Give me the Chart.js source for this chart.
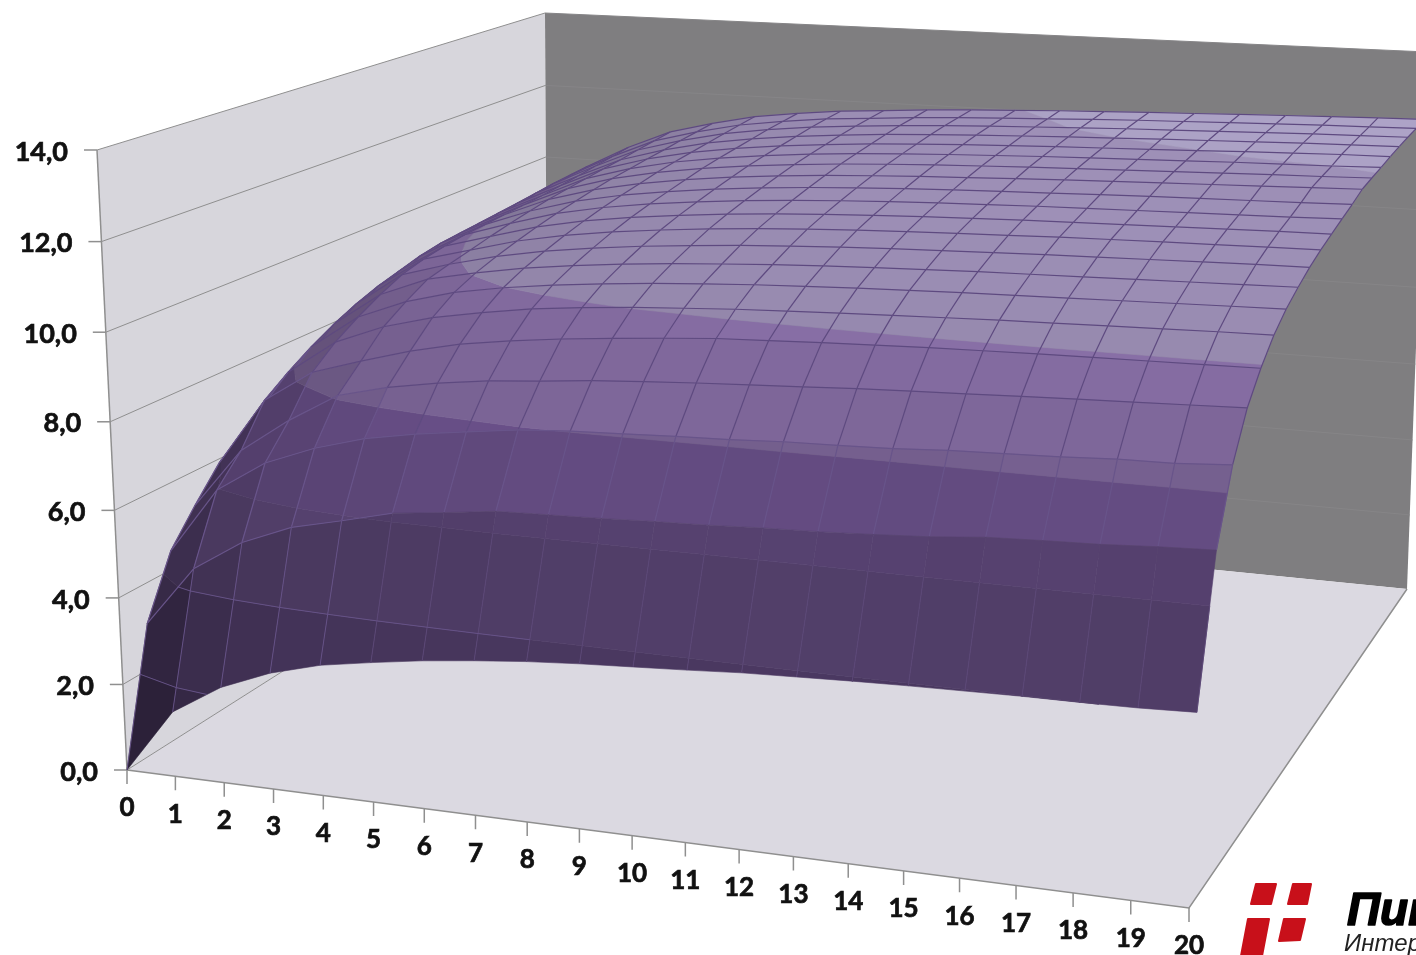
<!DOCTYPE html>
<html>
<head>
<meta charset="utf-8">
<style>
  html, body { margin: 0; padding: 0; background: #fff; overflow: hidden; }
  canvas { display: block; }
</style>
<script src="https://cdnjs.cloudflare.com/ajax/libs/Chart.js/4.4.0/chart.umd.min.js"></script>
</head>
<body>
<canvas id="chart" width="1416" height="955"></canvas>
<script>
const xCategories = ["0","1","2","3","4","5","6","7","8","9","10","11","12","13","14","15","16","17","18","19","20"];
const zTickValues = [0, 2, 4, 6, 8, 10, 12, 14];
const zTickLabels = ["0,0","2,0","4,0","6,0","8,0","10,0","12,0","14,0"];

// one row per depth step
const row0  = [0,1.5,2.2,2.66,2.97,3.16,3.33,3.46,3.57,3.65,3.71,3.77,3.84,3.88,3.92,3.95,3.97,3.99,3.995,4.01,4.05];
const row1  = [3.07,4.46,5.18,5.64,5.9,6.18,6.3,6.44,6.47,6.5,6.54,6.57,6.62,6.65,6.7,6.76,6.86,6.9,6.93,6.99,7.03];
const row2  = [4.44,5.97,6.7,7.14,7.46,7.66,7.81,7.95,8.02,8.06,8.1,8.13,8.18,8.2,8.23,8.29,8.32,8.35,8.4,8.41,8.48];
const row3  = [5.2,6.6,7.4,8.07,8.35,8.54,8.68,8.77,8.87,8.94,9.0,9.05,9.1,9.15,9.19,9.22,9.26,9.29,9.32,9.35,9.38];
const row4  = [5.9,7.5,8.25,8.6,8.92,9.17,9.33,9.46,9.56,9.65,9.73,9.77,9.81,9.84,9.87,9.89,9.91,9.92,9.93,9.94,9.95];
const row5  = [6.35,7.9,8.7,9.15,9.45,9.65,9.82,9.93,10.02,10.08,10.14,10.18,10.22,10.25,10.28,10.31,10.33,10.35,10.37,10.39,10.4];
const row6  = [6.7,8.25,9.05,9.5,9.8,9.99,10.13,10.24,10.33,10.4,10.46,10.5,10.54,10.57,10.6,10.62,10.64,10.66,10.68,10.7,10.72];
const row7  = [7.05,8.55,9.35,9.8,10.03,10.22,10.36,10.47,10.56,10.63,10.69,10.74,10.78,10.81,10.84,10.86,10.88,10.9,10.92,10.94,10.96];
const row8  = [7.4,8.8,9.6,9.93,10.2,10.4,10.55,10.67,10.76,10.84,10.9,10.95,10.99,11.02,11.05,11.08,11.1,11.12,11.14,11.16,11.17];
const row9  = [7.6,9.0,9.75,10.05,10.35,10.56,10.72,10.84,10.94,11.02,11.08,11.13,11.17,11.2,11.23,11.26,11.28,11.3,11.31,11.33,11.34];
const row10 = [7.8,9.15,9.85,10.17,10.48,10.7,10.86,10.98,11.08,11.16,11.22,11.27,11.31,11.34,11.37,11.39,11.41,11.43,11.45,11.47,11.48];
const row11 = [7.95,9.3,9.92,10.28,10.6,10.82,10.98,11.1,11.2,11.28,11.34,11.39,11.43,11.46,11.49,11.51,11.53,11.55,11.57,11.59,11.62];
const row12 = [8.1,9.4,9.96,10.38,10.7,10.92,11.08,11.21,11.31,11.39,11.45,11.5,11.54,11.57,11.6,11.63,11.66,11.68,11.7,11.72,11.75];
const row13 = [8.2,9.45,10.0,10.47,10.79,11.01,11.18,11.31,11.41,11.49,11.55,11.6,11.64,11.68,11.72,11.75,11.78,11.81,11.84,11.87,11.9];
const row14 = [8.3,9.5,10.04,10.54,10.87,11.1,11.27,11.4,11.5,11.58,11.64,11.69,11.73,11.77,11.8,11.83,11.86,11.89,11.92,11.94,11.97];
const row15 = [8.4,9.55,10.08,10.6,10.93,11.17,11.34,11.47,11.57,11.65,11.71,11.76,11.8,11.84,11.87,11.9,11.93,11.96,11.98,12.0,12.03];
const row16 = [8.5,9.6,10.14,10.66,10.99,11.23,11.4,11.53,11.63,11.71,11.77,11.82,11.86,11.9,11.93,11.96,11.995,12.03,12.06,12.09,12.1];
const row17 = [8.65,9.66,10.2,10.71,11.04,11.29,11.46,11.59,11.69,11.77,11.83,11.88,11.92,11.96,11.995,12.03,12.06,12.09,12.12,12.14,12.16];
const row18 = [8.8,9.72,10.27,10.78,11.1,11.35,11.52,11.65,11.74,11.82,11.88,11.93,11.97,12.01,12.05,12.08,12.11,12.14,12.17,12.19,12.21];
const row19 = [8.9,9.76,10.34,10.84,11.15,11.4,11.56,11.69,11.77,11.85,11.91,11.96,12.0,12.05,12.09,12.12,12.15,12.18,12.21,12.23,12.25];
const row20 = [9.0,9.8,10.41,10.9,11.2,11.45,11.6,11.72,11.8,11.88,11.94,11.99,12.04,12.08,12.12,12.15,12.19,12.22,12.25,12.28,12.3];
const surfaceRows = [row0,row1,row2,row3,row4,row5,row6,row7,row8,row9,row10,row11,row12,row13,row14,row15,row16,row17,row18,row19,row20];

// flat-lit colour of each 2-unit value band
const bandColors = [[95,72,125],[107,81,139],[117,90,151],[124,94,161],[146,119,178],[162,148,188],[176,166,202]];
const gridDark = "rgb(94,74,128)";
const gridLight = "rgb(104,84,138)";
const gridFaint = "rgb(92,72,120)";
const axisColor = "#8f8f8f";

const Z_MAX = 14, X_MAX = 20, V_MAX = 20;
// box corners on the canvas, floor and top level
const floorBox = { o: [127,770], x: [1189,908], xv: [1407,589], v: [548,503] };
const topBox   = { o: [97,150],  x: [1217,212], xv: [1427,52],  v: [545,13] };

function makeHomography(b) {
    const dx1 = b.x[0]-b.xv[0], dy1 = b.x[1]-b.xv[1];
    const dx2 = b.v[0]-b.xv[0], dy2 = b.v[1]-b.xv[1];
    const sx = b.o[0]-b.x[0]+b.xv[0]-b.v[0], sy = b.o[1]-b.x[1]+b.xv[1]-b.v[1];
    const det = dx1*dy2-dy1*dx2;
    const g = (sx*dy2-sy*dx2)/det, h = (dx1*sy-dy1*sx)/det;
    return (u, w) => {
        const d = g*u+h*w+1;
        return [
            ((b.x[0]-b.o[0]+g*b.x[0])*u+(b.v[0]-b.o[0]+h*b.v[0])*w+b.o[0])/d,
            ((b.x[1]-b.o[1]+g*b.x[1])*u+(b.v[1]-b.o[1]+h*b.v[1])*w+b.o[1])/d,
        ];
    };
}
const floorMap = makeHomography(floorBox);
const topMap = makeHomography(topBox);

function project(x, v, z) {
    const u = x/X_MAX, w = v/V_MAX, t = z/Z_MAX;
    const s = t*(1-0.04*(1-t));
    const a = floorMap(u, w), b = topMap(u, w);
    return { x: a[0]+(b[0]-a[0])*s, y: a[1]+(b[1]-a[1])*s };
}

function polygon(points, color, border, width, order) {
    return {
        data: points.concat([points[0]]),
        showLine: true,
        fill: "shape",
        backgroundColor: color,
        borderColor: border,
        borderWidth: width,
        pointRadius: 0,
        tension: 0,
        order: order,
    };
}
function polyline(points, border, width, order) {
    return {
        data: points,
        showLine: true,
        fill: false,
        borderColor: border,
        borderWidth: width,
        pointRadius: 0,
        tension: 0,
        order: order,
    };
}

// part of a cell (list of [x,v,z]) that lies in lo..hi
function clipBand(cell, lo, hi) {
    const clip = (poly, keep, limit) => {
        const out = [];
        poly.forEach((p, i) => {
            const q = poly[(i+1)%poly.length];
            if (keep(p[2])) out.push(p);
            if (keep(p[2]) !== keep(q[2])) {
                const f = (limit-p[2])/(q[2]-p[2]);
                out.push([p[0]+(q[0]-p[0])*f, p[1]+(q[1]-p[1])*f, limit]);
            }
        });
        return out;
    };
    const above = clip(cell, z => z >= lo, lo);
    return above.length ? clip(above, z => z <= hi, hi) : [];
}

// where the level crosses the edges of a cell
function levelCrossings(cell, level) {
    const out = [];
    cell.forEach((p, i) => {
        const q = cell[(i+1)%cell.length];
        if ((p[2]-level)*(q[2]-level) < 0) {
            const f = (level-p[2])/(q[2]-p[2]);
            out.push(project(p[0]+(q[0]-p[0])*f, p[1]+(q[1]-p[1])*f, level));
        }
    });
    return out;
}

function cellColor(band, slopeX, slopeV) {
    const f = 1/(1+0.15*Math.abs(slopeV)+0.5*Math.abs(slopeX));
    const c = bandColors[band];
    return `rgb(${Math.round(c[0]*f)},${Math.round(c[1]*f)},${Math.round(c[2]*f)})`;
}

const datasets = [];
let order = 100000;

// walls and floor
const corner = (x, v, z) => project(x, v, z);
datasets.push(polygon([corner(0,0,0),corner(0,V_MAX,0),corner(0,V_MAX,Z_MAX),corner(0,0,Z_MAX)], "#d7d6dc", "#d7d6dc", 0, order--));
datasets.push(polygon([corner(0,V_MAX,0),corner(X_MAX,V_MAX,0),corner(X_MAX,V_MAX,Z_MAX),corner(0,V_MAX,Z_MAX)], "#7f7e80", "#7f7e80", 0, order--));
datasets.push(polygon([corner(0,0,0),corner(X_MAX,0,0),corner(X_MAX,V_MAX,0),corner(0,V_MAX,0)], "#dbd9e1", "#dbd9e1", 0, order--));

zTickValues.forEach(z => {
    datasets.push(polyline([corner(0,0,z),corner(0,V_MAX,z)], axisColor, 1, order--));
    if (z > 0) datasets.push(polyline([corner(0,V_MAX,z),corner(X_MAX,V_MAX,z)], "#868587", 1, order--));
});
datasets.push(polyline([corner(0,0,0),corner(0,0,Z_MAX)], axisColor, 1.5, order--));
datasets.push(polyline([corner(0,0,0),corner(X_MAX,0,0),corner(X_MAX,V_MAX,0)], axisColor, 1.5, order--));

// axis ticks
zTickValues.forEach(z => {
    const p = corner(0,0,z);
    datasets.push(polyline([p,{x:p.x-13,y:p.y}], axisColor, 1.5, order--));
});
xCategories.forEach((c, i) => {
    const p = corner(i,0,0);
    datasets.push(polyline([p,{x:p.x,y:p.y+14}], axisColor, 1.5, order--));
});

const cellAt = (x, v) => [
    [x,v,surfaceRows[v][x]],[x+1,v,surfaceRows[v][x+1]],
    [x+1,v+1,surfaceRows[v+1][x+1]],[x,v+1,surfaceRows[v+1][x]],
];

// surface, back rows first; each row's lines go on after its fills
for (let v = V_MAX-1; v >= 0; v--) {
    for (let x = 0; x < X_MAX; x++) {
        const cell = cellAt(x, v);
        const slopeX = (cell[1][2]-cell[0][2]+cell[2][2]-cell[3][2])/2;
        const slopeV = (cell[3][2]-cell[0][2]+cell[2][2]-cell[1][2])/2;
        bandColors.forEach((c, band) => {
            const part = clipBand(cell, band*2, band*2+2);
            if (part.length < 3) return;
            const color = cellColor(band, slopeX, slopeV);
            datasets.push(polygon(part.map(p => project(p[0],p[1],p[2])), color, color, 0.6, order--));
        });
    }
    for (let x = 0; x <= X_MAX; x++) {
        const z0 = surfaceRows[v][x], z1 = surfaceRows[v+1][x];
        const color = z1 < 8.5 ? gridLight : gridDark;
        if (v === 0) {
            // the steep first row shows column lines only up to the 6 level
            const lineColor = x < 5 ? gridLight : gridFaint;
            if (z1 > 6) {
                const f = (6-z0)/(z1-z0);
                datasets.push(polyline([project(x,0,z0),project(x,f,6)], lineColor, 0.9, order--));
            } else {
                datasets.push(polyline([project(x,0,z0),project(x,1,z1)], lineColor, 0.9, order--));
            }
        } else {
            datasets.push(polyline([project(x,v,z0),project(x,v+1,z1)], color, 1.2, order--));
        }
    }
    for (let x = 0; x < X_MAX; x++) {
        if (v === 0 && x >= 5) continue;
        const z0 = surfaceRows[v+1][x], z1 = surfaceRows[v+1][x+1];
        const color = z1 < 8.5 ? gridLight : gridDark;
        datasets.push(polyline([project(x,v+1,z0),project(x+1,v+1,z1)], color, 1.2, order--));
    }
    if (v === 0) {
        for (let x = 0; x < 8; x++) {
            [2, 4].forEach(level => {
                const hit = levelCrossings(cellAt(x, 0), level);
                if (hit.length === 2) datasets.push(polyline(hit, gridLight, 0.9, order--));
            });
        }
    }
}

const textPlugin = {
    id: "boxText",
    afterDatasetsDraw(chart) {
        const ctx = chart.ctx, sx = chart.scales.x, sy = chart.scales.y;
        const label = (text, x, y) => {
            ctx.strokeText(text, x, y);
            ctx.fillText(text, x, y);
        };
        ctx.save();
        ctx.fillStyle = "#111";
        ctx.strokeStyle = "#111";
        ctx.lineWidth = 0.7;
        ctx.font = "bold 27px Lato";
        ctx.textBaseline = "middle";
        ctx.textAlign = "right";
        zTickValues.forEach((z, i) => {
            const p = corner(0,0,z);
            label(zTickLabels[i], sx.getPixelForValue(p.x-29), sy.getPixelForValue(p.y+2));
        });
        ctx.font = "bold 26px Lato";
        ctx.textAlign = "center";
        xCategories.forEach((c, i) => {
            const p = corner(i,0,0);
            label(c, sx.getPixelForValue(p.x), sy.getPixelForValue(p.y+38));
        });
        // logo in the corner
        ctx.fillStyle = "#c8101a";
        ctx.strokeStyle = "#c8101a";
        ctx.lineJoin = "round";
        ctx.lineWidth = 2;
        [
            [[1256,884],[1276,884],[1271,904],[1251,904]],
            [[1293,884],[1311,884],[1307,904],[1288,904]],
            [[1248,919],[1269,919],[1262,956],[1241,956]],
            [[1284,919],[1305,919],[1300,940],[1279,941]],
        ].forEach(shape => {
            ctx.beginPath();
            shape.forEach((p, i) => i ? ctx.lineTo(p[0],p[1]) : ctx.moveTo(p[0],p[1]));
            ctx.closePath();
            ctx.fill();
            ctx.stroke();
        });
        ctx.fillStyle = "#000";
        ctx.strokeStyle = "#000";
        ctx.lineWidth = 1.6;
        ctx.textAlign = "left";
        ctx.textBaseline = "alphabetic";
        ctx.font = "italic bold 46px 'Liberation Sans'";
        label("Пин", 1347, 925);
        ctx.fillStyle = "#222";
        ctx.font = "italic 24px 'Liberation Sans'";
        ctx.fillText("Интер", 1344, 951);
        ctx.restore();
    },
};

new Chart(document.getElementById("chart").getContext("2d"), {
    type: "scatter",
    data: { datasets },
    plugins: [textPlugin],
    options: {
        responsive: false,
        animation: false,
        events: [],
        layout: { padding: 0 },
        clip: false,
        plugins: { legend: { display: false }, tooltip: { enabled: false } },
        scales: {
            x: { type: "linear", display: false, min: 0, max: 1416 },
            y: { type: "linear", display: false, min: 0, max: 955, reverse: true },
        },
    },
});
</script>
</body>
</html>
